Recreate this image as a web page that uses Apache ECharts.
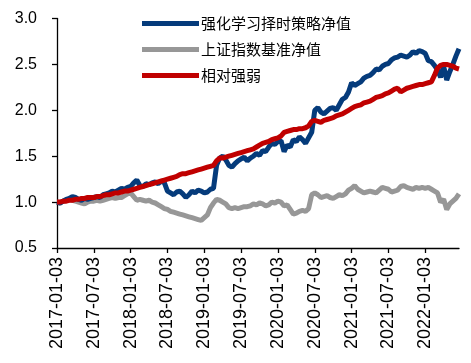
<!DOCTYPE html>
<html>
<head>
<meta charset="utf-8">
<script src="https://cdn.jsdelivr.net/npm/echarts@6/dist/echarts.min.js"></script>
<style>
html,body{margin:0;padding:0;background:#fff;}
#chart{width:471px;height:363px;}
</style>
</head>
<body>
<div id="chart"></div>
<script>
// Tick labels every 12 sample points (half-year)
var tickLabels = ['2017-01-03','2017-07-03','2018-01-03','2018-07-03','2019-01-03','2019-07-03','2020-01-03','2020-07-03','2021-01-03','2021-07-03','2022-01-03'];
var seriesNames = ['强化学习择时策略净值','上证指数基准净值','相对强弱'];

var strategy = [
1.00,0.99,1.01,1.03,1.04,1.06,1.05,1.03,1.02,1.04,1.03,1.04,
1.05,1.06,1.05,1.08,1.09,1.10,1.12,1.11,1.13,1.15,1.14,1.16,
1.17,1.21,1.24,1.18,1.17,1.20,1.19,1.21,1.22,1.20,1.23,1.21,
1.12,1.10,1.08,1.11,1.12,1.09,1.05,1.08,1.12,1.10,1.13,1.12,
1.10,1.11,1.14,1.15,1.40,1.48,1.50,1.46,1.40,1.38,1.42,1.45,
1.47,1.49,1.45,1.48,1.50,1.53,1.51,1.56,1.55,1.60,1.64,1.63,
1.66,1.67,1.55,1.62,1.60,1.68,1.66,1.71,1.68,1.64,1.70,1.76,
2.00,2.03,1.98,1.96,1.99,2.02,2.03,2.00,2.06,2.12,2.14,2.20,
2.30,2.27,2.29,2.31,2.35,2.37,2.38,2.41,2.45,2.44,2.48,2.50,
2.51,2.55,2.57,2.58,2.60,2.59,2.58,2.60,2.64,2.62,2.65,2.64,
2.62,2.54,2.53,2.49,2.44,2.36,2.48,2.33,2.42,2.50,2.59,2.67
];
var benchmark = [
1.00,0.99,1.01,1.02,1.03,1.02,1.01,1.00,0.99,0.98,1.00,1.01,
1.01,1.02,1.01,1.02,1.03,1.04,1.05,1.04,1.05,1.05,1.07,1.09,
1.10,1.06,1.02,1.03,1.02,1.01,1.02,1.00,0.99,0.97,0.95,0.93,
0.92,0.90,0.89,0.88,0.87,0.86,0.85,0.84,0.83,0.82,0.81,0.80,
0.83,0.86,0.94,0.99,1.03,1.02,1.00,0.98,0.94,0.93,0.94,0.93,
0.94,0.95,0.95,0.96,0.98,0.97,0.99,0.98,0.96,0.97,1.00,0.99,
1.01,1.00,0.96,0.97,0.92,0.87,0.88,0.90,0.91,0.90,0.93,1.08,
1.10,1.08,1.05,1.06,1.07,1.05,1.04,1.06,1.08,1.07,1.09,1.13,
1.15,1.18,1.14,1.12,1.10,1.11,1.12,1.11,1.10,1.13,1.16,1.15,
1.14,1.11,1.12,1.13,1.17,1.18,1.16,1.15,1.14,1.16,1.15,1.16,
1.15,1.16,1.14,1.12,1.10,1.00,1.03,0.92,0.98,1.01,1.04,1.09
];
var relative = [
1.00,1.00,1.01,1.01,1.02,1.02,1.03,1.03,1.04,1.04,1.05,1.05,
1.05,1.06,1.06,1.07,1.08,1.08,1.09,1.10,1.10,1.11,1.12,1.12,
1.13,1.14,1.15,1.16,1.17,1.18,1.19,1.20,1.21,1.22,1.23,1.24,
1.25,1.26,1.27,1.28,1.30,1.31,1.31,1.32,1.33,1.34,1.35,1.36,
1.37,1.38,1.39,1.40,1.45,1.48,1.48,1.49,1.50,1.51,1.52,1.53,
1.54,1.55,1.56,1.57,1.58,1.60,1.62,1.64,1.65,1.66,1.68,1.69,
1.70,1.72,1.76,1.77,1.78,1.79,1.79,1.80,1.80,1.81,1.83,1.88,
1.89,1.88,1.87,1.89,1.90,1.91,1.92,1.94,1.95,1.96,1.98,2.00,
2.02,2.04,2.05,2.06,2.08,2.09,2.10,2.12,2.14,2.15,2.16,2.18,
2.19,2.21,2.23,2.24,2.20,2.22,2.24,2.25,2.26,2.27,2.28,2.28,
2.29,2.30,2.31,2.38,2.46,2.49,2.50,2.50,2.49,2.48,2.46,2.45
];
var colors = ['#053b7b','#979797','#c00000'];

var tickPositions = tickLabels.map(function(_, k){ return k * 12; });
function pairs(arr){ return arr.map(function(v,i){ return [i, v]; }); }

var chart = echarts.init(document.getElementById('chart'), null, {renderer:'canvas'});
var fam = 'Liberation Sans, Arial, sans-serif';
chart.setOption({
  animation:false,
  backgroundColor:'#fff',
  grid:{left:57, right:12, top:18.5, bottom:115, containLabel:false},
  legend:{
    orient:'vertical', left:137, top:11, itemGap:11,
    itemWidth:57, itemHeight:5, icon:'rect',
    textStyle:{fontFamily:'Noto Sans CJK SC', fontSize:15, color:'#000', padding:[0,0,0,-3]},
    data:seriesNames
  },
  xAxis:{
    type:'value', min:0, max:strategy.length-1,
    splitLine:{show:false},
    axisLine:{show:true, onZero:false, lineStyle:{color:'#000', width:1.3}},
    axisTick:{show:true, length:5, lineStyle:{color:'#000', width:1.3}, customValues:tickPositions},
    axisLabel:{rotate:90, margin:9, customValues:tickPositions, fontFamily:fam, fontSize:18, color:'#000',
      formatter:function(v){ var k=Math.round(v/12); return tickLabels[k]||''; }}
  },
  yAxis:{
    type:'value', min:0.5, max:3.0, interval:0.5,
    splitLine:{show:false},
    axisLine:{show:true, lineStyle:{color:'#000', width:1.3}},
    axisTick:{show:true, length:5, lineStyle:{color:'#000', width:1.3}},
    axisLabel:{margin:20, fontFamily:fam, fontSize:16, color:'#000', formatter:function(v){return v.toFixed(1);}}
  },
  series:[
    {name:seriesNames[0], type:'line', data:pairs(strategy), showSymbol:false, symbol:'none', color:colors[0], lineStyle:{width:5, color:colors[0]}, z:3},
    {name:seriesNames[1], type:'line', data:pairs(benchmark), showSymbol:false, symbol:'none', color:colors[1], lineStyle:{width:5, color:colors[1]}, z:2},
    {name:seriesNames[2], type:'line', data:pairs(relative), showSymbol:false, symbol:'none', color:colors[2], lineStyle:{width:5, color:colors[2]}, z:4}
  ]
});
</script>
</body>
</html>
